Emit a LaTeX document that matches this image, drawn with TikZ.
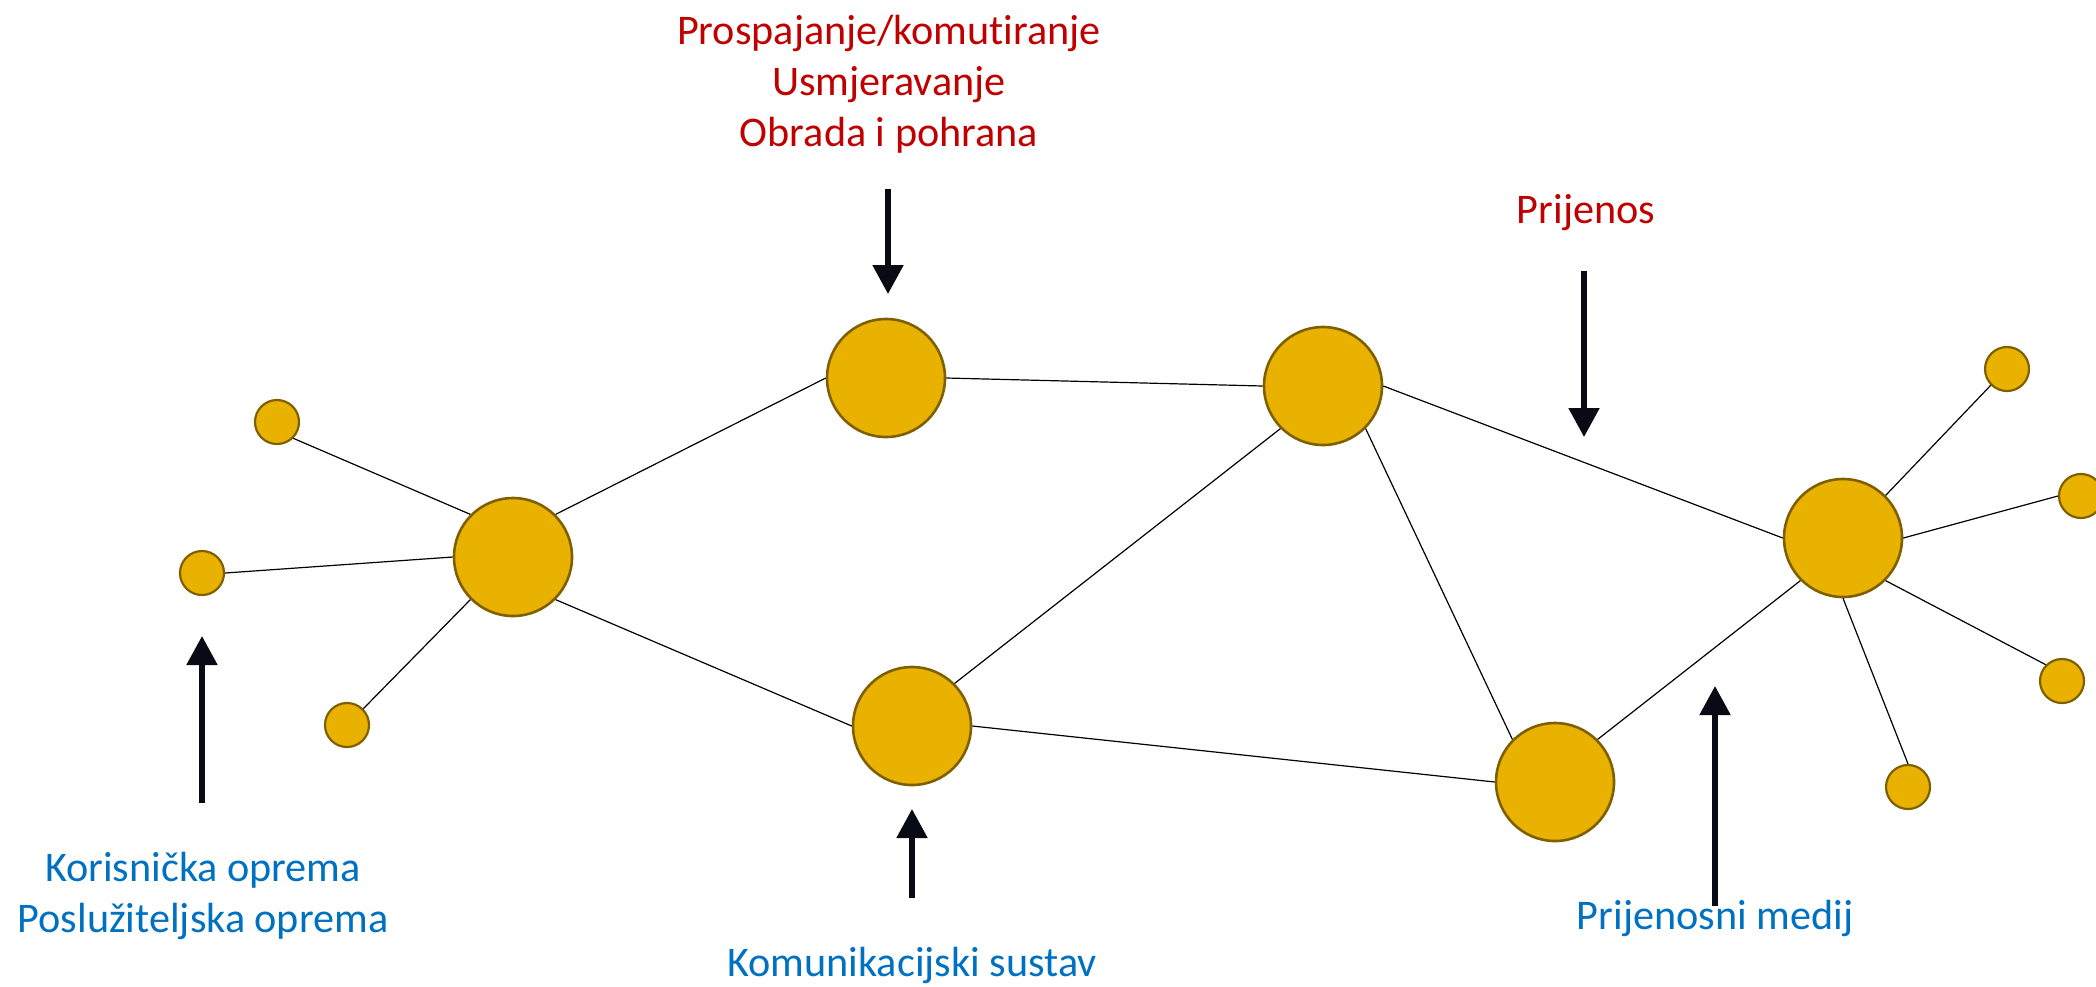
\documentclass[tikz,border=0pt]{standalone}
\usepackage{fontspec}
\setmainfont{Carlito}[Ligatures=NoCommon]
\usetikzlibrary{arrows.meta}
\definecolor{nodefill}{HTML}{EAB200}
\definecolor{nodeline}{HTML}{7F6000}
\definecolor{txtred}{HTML}{C00000}
\definecolor{txtblue}{HTML}{0070C0}
\definecolor{arrowcol}{HTML}{0A0A14}
\begin{document}
\begin{tikzpicture}[x=0.5pt,y=-0.5pt,
  bignode/.style={circle,draw=nodeline,fill=nodefill,line width=1.3pt,minimum size=59pt,inner sep=0pt},
  smallnode/.style={circle,draw=nodeline,fill=nodefill,line width=1.1pt,minimum size=22pt,inner sep=0pt},
  link/.style={line width=0.6pt,black},
  pointer/.style={line width=2.6pt,arrowcol,-{Triangle[width=15pt,length=14.5pt]}},
  redtxt/.style={text=txtred,font=\fontsize{21.1}{25.5}\selectfont,align=center,inner sep=0pt,anchor=base},
  bluetxt/.style={text=txtblue,font=\fontsize{21.1}{25.5}\selectfont,align=center,inner sep=0pt,anchor=base}]
\useasboundingbox (0,0) rectangle (2096,986);
\node[bignode] (A) at (513,557) {};
\node[bignode] (B) at (886,378) {};
\node[bignode] (C) at (1323,386) {};
\node[bignode] (D) at (912,726) {};
\node[bignode] (E) at (1555,782) {};
\node[bignode] (F) at (1843,538) {};
\node[smallnode] (l1) at (277,422) {};
\node[smallnode] (l2) at (202,573) {};
\node[smallnode] (l3) at (347,725) {};
\node[smallnode] (r1) at (2007,369) {};
\node[smallnode] (r2) at (2081,496) {};
\node[smallnode] (r3) at (2062,681) {};
\node[smallnode] (r4) at (1908,787) {};
\draw[link] (l1.south east) -- (A.north west);
\draw[link] (l2.east) -- (A.west);
\draw[link] (l3.north east) -- (A.south west);
\draw[link] (A.north east) -- (B.west);
\draw[link] (A.south east) -- (D.west);
\draw[link] (B.east) -- (C.west);
\draw[link] (C.south west) -- (D.north east);
\draw[link] (C.south east) -- (E.north west);
\draw[link] (C.east) -- (F.west);
\draw[link] (D.east) -- (E.west);
\draw[link] (E.north east) -- (F.south west);
\draw[link] (F.north east) -- (r1.south west);
\draw[link] (F.east) -- (r2.west);
\draw[link] (F.south east) -- (r3.north west);
\draw[link] (F.south) -- (r4.north);
% labels
\node[redtxt] (t1) at (889,146) {Prospajanje/komutiranje\\Usmjeravanje\\Obrada i pohrana};
\node[redtxt] (t2) at (1586,223) {Prijenos};
\node[bluetxt] (t3) at (203,932) {Korisnička oprema\\Poslužiteljska oprema};
\node[bluetxt] (t4) at (912,976) {Komunikacijski sustav};
\node[bluetxt] (t5) at (1715,929) {Prijenosni medij};
% arrows
\coordinate (a1s) at (888,189); \coordinate (a1e) at (888,294);
\coordinate (a2s) at (1584,271); \coordinate (a2e) at (1584,437);
\coordinate (a3s) at (202,803); \coordinate (a3e) at (202,636);
\coordinate (a4s) at (912,898); \coordinate (a4e) at (912,809);
\coordinate (a5s) at (1715,906); \coordinate (a5e) at (1715,686);
\draw[pointer] (a1s) -- (a1e);
\draw[pointer] (a2s) -- (a2e);
\draw[pointer] (a3s) -- (a3e);
\draw[pointer] (a4s) -- (a4e);
\draw[pointer] (a5s) -- (a5e);
\end{tikzpicture}
\end{document}
